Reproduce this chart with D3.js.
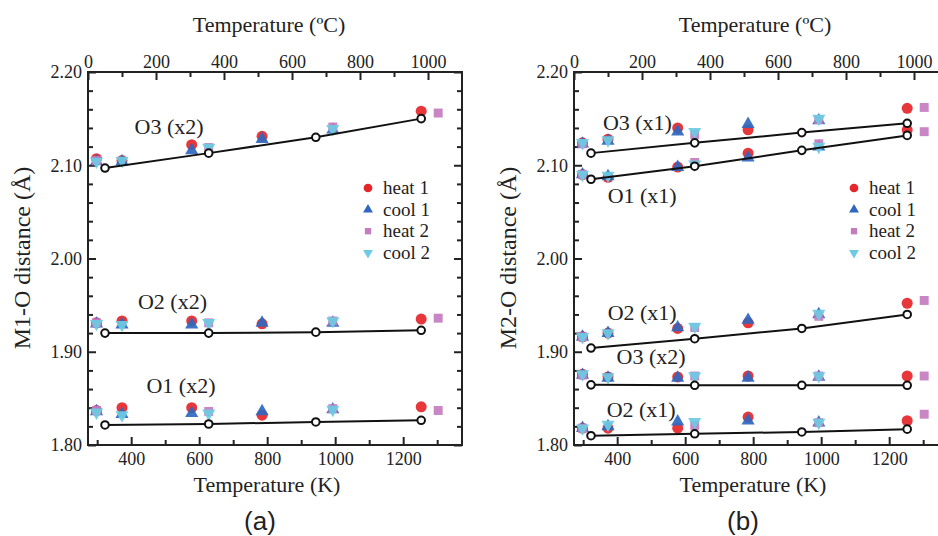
<!DOCTYPE html>
<html>
<head>
  <meta charset="utf-8">
  <title>M-O distance vs temperature</title>
  <style>
    body { margin: 0; background: #fff; }
    text { font-family: "Liberation Serif", "Times New Roman", serif; fill: #222; }
  </style>
</head>
<body>
<svg width="938" height="536"></svg>
<script src="https://d3js.org/d3.v7.min.js"></script>
<script>
// temperatures (K)
var calcT  = [323, 628, 943, 1253];
var heat1T = [298, 373, 578, 785, 1253];
var cool1T = [298, 373, 578, 785, 993];
var heat2T = [298, 628, 993, 1303];
var cool2T = [298, 373, 628, 993];

var seriesNames = ["heat 1", "cool 1", "heat 2", "cool 2"];

// panel (a) M1-O bonds
var a_O3_calc  = [2.097, 2.113, 2.130, 2.150];
var a_O3_heat1 = [2.107, 2.105, 2.122, 2.131, 2.158];
var a_O3_cool1 = [2.104, 2.104, 2.116, 2.128, 2.138];
var a_O3_heat2 = [2.105, 2.119, 2.141, 2.156];
var a_O3_cool2 = [2.104, 2.105, 2.119, 2.139];

var a_O2_calc  = [1.920, 1.920, 1.921, 1.923];
var a_O2_heat1 = [1.931, 1.933, 1.933, 1.930, 1.935];
var a_O2_cool1 = [1.930, 1.929, 1.929, 1.931, 1.931];
var a_O2_heat2 = [1.931, 1.931, 1.933, 1.936];
var a_O2_cool2 = [1.930, 1.929, 1.931, 1.933];

var a_O1_calc  = [1.8215, 1.8225, 1.8247, 1.8265];
var a_O1_heat1 = [1.837, 1.840, 1.840, 1.832, 1.841];
var a_O1_cool1 = [1.836, 1.833, 1.834, 1.836, 1.838];
var a_O1_heat2 = [1.837, 1.836, 1.839, 1.837];
var a_O1_cool2 = [1.835, 1.832, 1.834, 1.838];

// panel (b) M2-O bonds
var b_O3_calc  = [2.113, 2.124, 2.135, 2.145];
var b_O3_heat1 = [2.124, 2.128, 2.140, 2.138, 2.161];
var b_O3_cool1 = [2.123, 2.126, 2.136, 2.144, 2.148];
var b_O3_heat2 = [2.123, 2.133, 2.149, 2.162];
var b_O3_cool2 = [2.124, 2.127, 2.136, 2.150];

var b_O1_calc  = [2.085, 2.099, 2.116, 2.132];
var b_O1_heat1 = [2.090, 2.087, 2.098, 2.113, 2.138];
var b_O1_cool1 = [2.090, 2.088, 2.098, 2.108, 2.120];
var b_O1_heat2 = [2.090, 2.103, 2.123, 2.136];
var b_O1_cool2 = [2.090, 2.089, 2.101, 2.120];

var b_O2u_calc  = [1.904, 1.914, 1.925, 1.940];
var b_O2u_heat1 = [1.916, 1.920, 1.925, 1.931, 1.952];
var b_O2u_cool1 = [1.916, 1.920, 1.926, 1.934, 1.940];
var b_O2u_heat2 = [1.916, 1.926, 1.938, 1.955];
var b_O2u_cool2 = [1.916, 1.920, 1.927, 1.941];

var b_O3x2_calc  = [1.8645, 1.864, 1.864, 1.864];
var b_O3x2_heat1 = [1.876, 1.873, 1.873, 1.874, 1.874];
var b_O3x2_cool1 = [1.875, 1.872, 1.872, 1.872, 1.873];
var b_O3x2_heat2 = [1.875, 1.874, 1.874, 1.874];
var b_O3x2_cool2 = [1.876, 1.873, 1.874, 1.874];

var b_O2l_calc  = [1.810, 1.812, 1.814, 1.817];
var b_O2l_heat1 = [1.818, 1.818, 1.818, 1.830, 1.826];
var b_O2l_cool1 = [1.818, 1.820, 1.825, 1.826, 1.824];
var b_O2l_heat2 = [1.818, 1.821, 1.824, 1.833];
var b_O2l_cool2 = [1.818, 1.822, 1.825, 1.824];

// axis ticks
var kMajor = [400, 600, 800, 1000, 1200];
var kMinor = [300, 500, 700, 900, 1100, 1300];
var cMajor = [0, 200, 400, 600, 800, 1000];
var cMinor = [100, 300, 500, 700, 900];
var yMajor = [1.80, 1.90, 2.00, 2.10, 2.20];
var yMinor = [1.82, 1.84, 1.86, 1.88, 1.92, 1.94, 1.96, 1.98, 2.02, 2.04, 2.06, 2.08, 2.12, 2.14, 2.16, 2.18];

function bond(label, lx, ly, calc, h1, c1, h2, c2) {
  return { label: label, lx: lx, ly: ly, calc: calc, sets: [h1, c1, h2, c2] };
}

var panels = [
  { left: 88, tag: "(a)", tagX: 260, ytitle: "M1-O distance (\u00c5)", ytitleX: 30,
    bonds: [
      bond("O3 (x2)", 410, 2.133, a_O3_calc, a_O3_heat1, a_O3_cool1, a_O3_heat2, a_O3_cool2),
      bond("O2 (x2)", 420, 1.946, a_O2_calc, a_O2_heat1, a_O2_cool1, a_O2_heat2, a_O2_cool2),
      bond("O1 (x2)", 445, 1.856, a_O1_calc, a_O1_heat1, a_O1_cool1, a_O1_heat2, a_O1_cool2)
    ] },
  { left: 574, tag: "(b)", tagX: 743, ytitle: "M2-O distance (\u00c5)", ytitleX: 516,
    bonds: [
      bond("O3 (x1)", 358, 2.138, b_O3_calc, b_O3_heat1, b_O3_cool1, b_O3_heat2, b_O3_cool2),
      bond("O1 (x1)", 372, 2.059, b_O1_calc, b_O1_heat1, b_O1_cool1, b_O1_heat2, b_O1_cool2),
      bond("O2 (x1)", 372, 1.934, b_O2u_calc, b_O2u_heat1, b_O2u_cool1, b_O2u_heat2, b_O2u_cool2),
      bond("O3 (x2)", 398, 1.887, b_O3x2_calc, b_O3x2_heat1, b_O3x2_cool1, b_O3x2_heat2, b_O3x2_cool2),
      bond("O2 (x1)", 369, 1.830, b_O2l_calc, b_O2l_heat1, b_O2l_cool1, b_O2l_heat2, b_O2l_cool2)
    ] }
];

var seriesT = [heat1T, cool1T, heat2T, cool2T];
var colors = ["#e5262a", "#2f67c0", "#c47cc0", "#6ccbe2"];
var shapes = [
  d3.symbol().type(d3.symbolCircle).size(95)(),
  d3.symbol().type(d3.symbolTriangle).size(75)(),
  d3.symbol().type(d3.symbolSquare).size(80)(),
  d3.symbol().type(d3.symbolTriangle).size(75)()
];
var legShapes = [
  d3.symbol().type(d3.symbolCircle).size(60)(),
  d3.symbol().type(d3.symbolTriangle).size(42)(),
  d3.symbol().type(d3.symbolSquare).size(40)(),
  d3.symbol().type(d3.symbolTriangle).size(42)()
];
var rot = [0, 0, 0, 180];

var W = 374, yTop = 72, yBot = 445;
var svg = d3.select("svg");

panels.forEach(function(p) {
  var x = d3.scaleLinear().domain([273, 1373]).range([p.left, p.left + W]);
  var xc = d3.scaleLinear().domain([0, 1100]).range([p.left, p.left + W]);
  var y = d3.scaleLinear().domain([1.80, 2.20]).range([yBot, yTop]);
  var g = svg.append("g");

  // axes
  function ax(axis, tr, size, vals, fmt, pad) {
    var a = axis.tickValues(vals).tickSize(-size).tickPadding(pad).tickFormat(fmt);
    var s = g.append("g").attr("transform", tr).call(a);
    s.select(".domain").remove();
    s.selectAll("line").attr("stroke", "#222").attr("stroke-width", 2);
    s.selectAll("text").attr("font-family", "Liberation Serif").attr("font-size", 18).attr("fill", "#222");
    return s;
  }
  var none = function() { return ""; };
  ax(d3.axisBottom(x), "translate(0," + yBot + ")", 8, kMajor, d3.format("d"), 7);
  ax(d3.axisBottom(x), "translate(0," + yBot + ")", 5, kMinor, none, 7);
  ax(d3.axisTop(xc), "translate(0," + yTop + ")", 8, cMajor, d3.format("d"), 4);
  ax(d3.axisTop(xc), "translate(0," + yTop + ")", 5, cMinor, none, 4);
  ax(d3.axisLeft(y), "translate(" + p.left + ",0)", 8, yMajor, d3.format(".2f"), 6);
  ax(d3.axisLeft(y), "translate(" + p.left + ",0)", 5, yMinor, none, 6);
  ax(d3.axisRight(y), "translate(" + (p.left + W) + ",0)", 8, yMajor, none, 6);
  ax(d3.axisRight(y), "translate(" + (p.left + W) + ",0)", 5, yMinor, none, 6);

  g.append("rect").attr("x", p.left).attr("y", yTop).attr("width", W).attr("height", yBot - yTop)
    .attr("fill", "none").attr("stroke", "#222").attr("stroke-width", 2);

  // experimental points
  p.bonds.forEach(function(b) {
    b.sets.forEach(function(vals, si) {
      g.selectAll(null).data(vals).enter().append("path")
        .attr("d", shapes[si])
        .attr("transform", function(v, i) {
          return "translate(" + x(seriesT[si][i]) + "," + y(v) + ") rotate(" + rot[si] + ")";
        })
        .attr("fill", colors[si]).attr("opacity", 0.92);
    });
  });

  // calculated lines
  var line = d3.line().x(function(v, i) { return x(calcT[i]); }).y(function(v) { return y(v); });
  p.bonds.forEach(function(b) {
    g.append("path").attr("d", line(b.calc)).attr("fill", "none").attr("stroke", "#111").attr("stroke-width", 2);
    g.selectAll(null).data(b.calc).enter().append("circle")
      .attr("cx", function(v, i) { return x(calcT[i]); })
      .attr("cy", function(v) { return y(v); })
      .attr("r", 3.8).attr("fill", "#fff").attr("stroke", "#111").attr("stroke-width", 2);
    g.append("text").attr("x", x(b.lx)).attr("y", y(b.ly)).attr("font-size", 22).text(b.label);
  });

  // legend
  var leg = g.append("g").attr("transform", "translate(" + (p.left + 280) + ",188)");
  seriesNames.forEach(function(n, i) {
    leg.append("path").attr("d", legShapes[i])
      .attr("transform", "translate(0," + (i * 21.6) + ") rotate(" + rot[i] + ")")
      .attr("fill", colors[i]);
    leg.append("text").attr("x", 15).attr("y", i * 21.6 + 6).attr("font-size", 19).text(n);
  });

  // titles
  g.append("text").attr("x", p.left + 181).attr("y", 32).attr("text-anchor", "middle")
    .attr("font-size", 22).text("Temperature (\u00baC)");
  g.append("text").attr("x", p.left + 179).attr("y", 492).attr("text-anchor", "middle")
    .attr("font-size", 22).text("Temperature (K)");
  g.append("text").attr("transform", "translate(" + p.ytitleX + ",258) rotate(-90)")
    .attr("text-anchor", "middle").attr("font-size", 24).text(p.ytitle);
  g.append("text").attr("x", p.tagX).attr("y", 530).attr("text-anchor", "middle")
    .style("font-family", "Liberation Sans, Arial, sans-serif")
    .attr("font-size", 26).text(p.tag);
});
</script>
</body>
</html>
